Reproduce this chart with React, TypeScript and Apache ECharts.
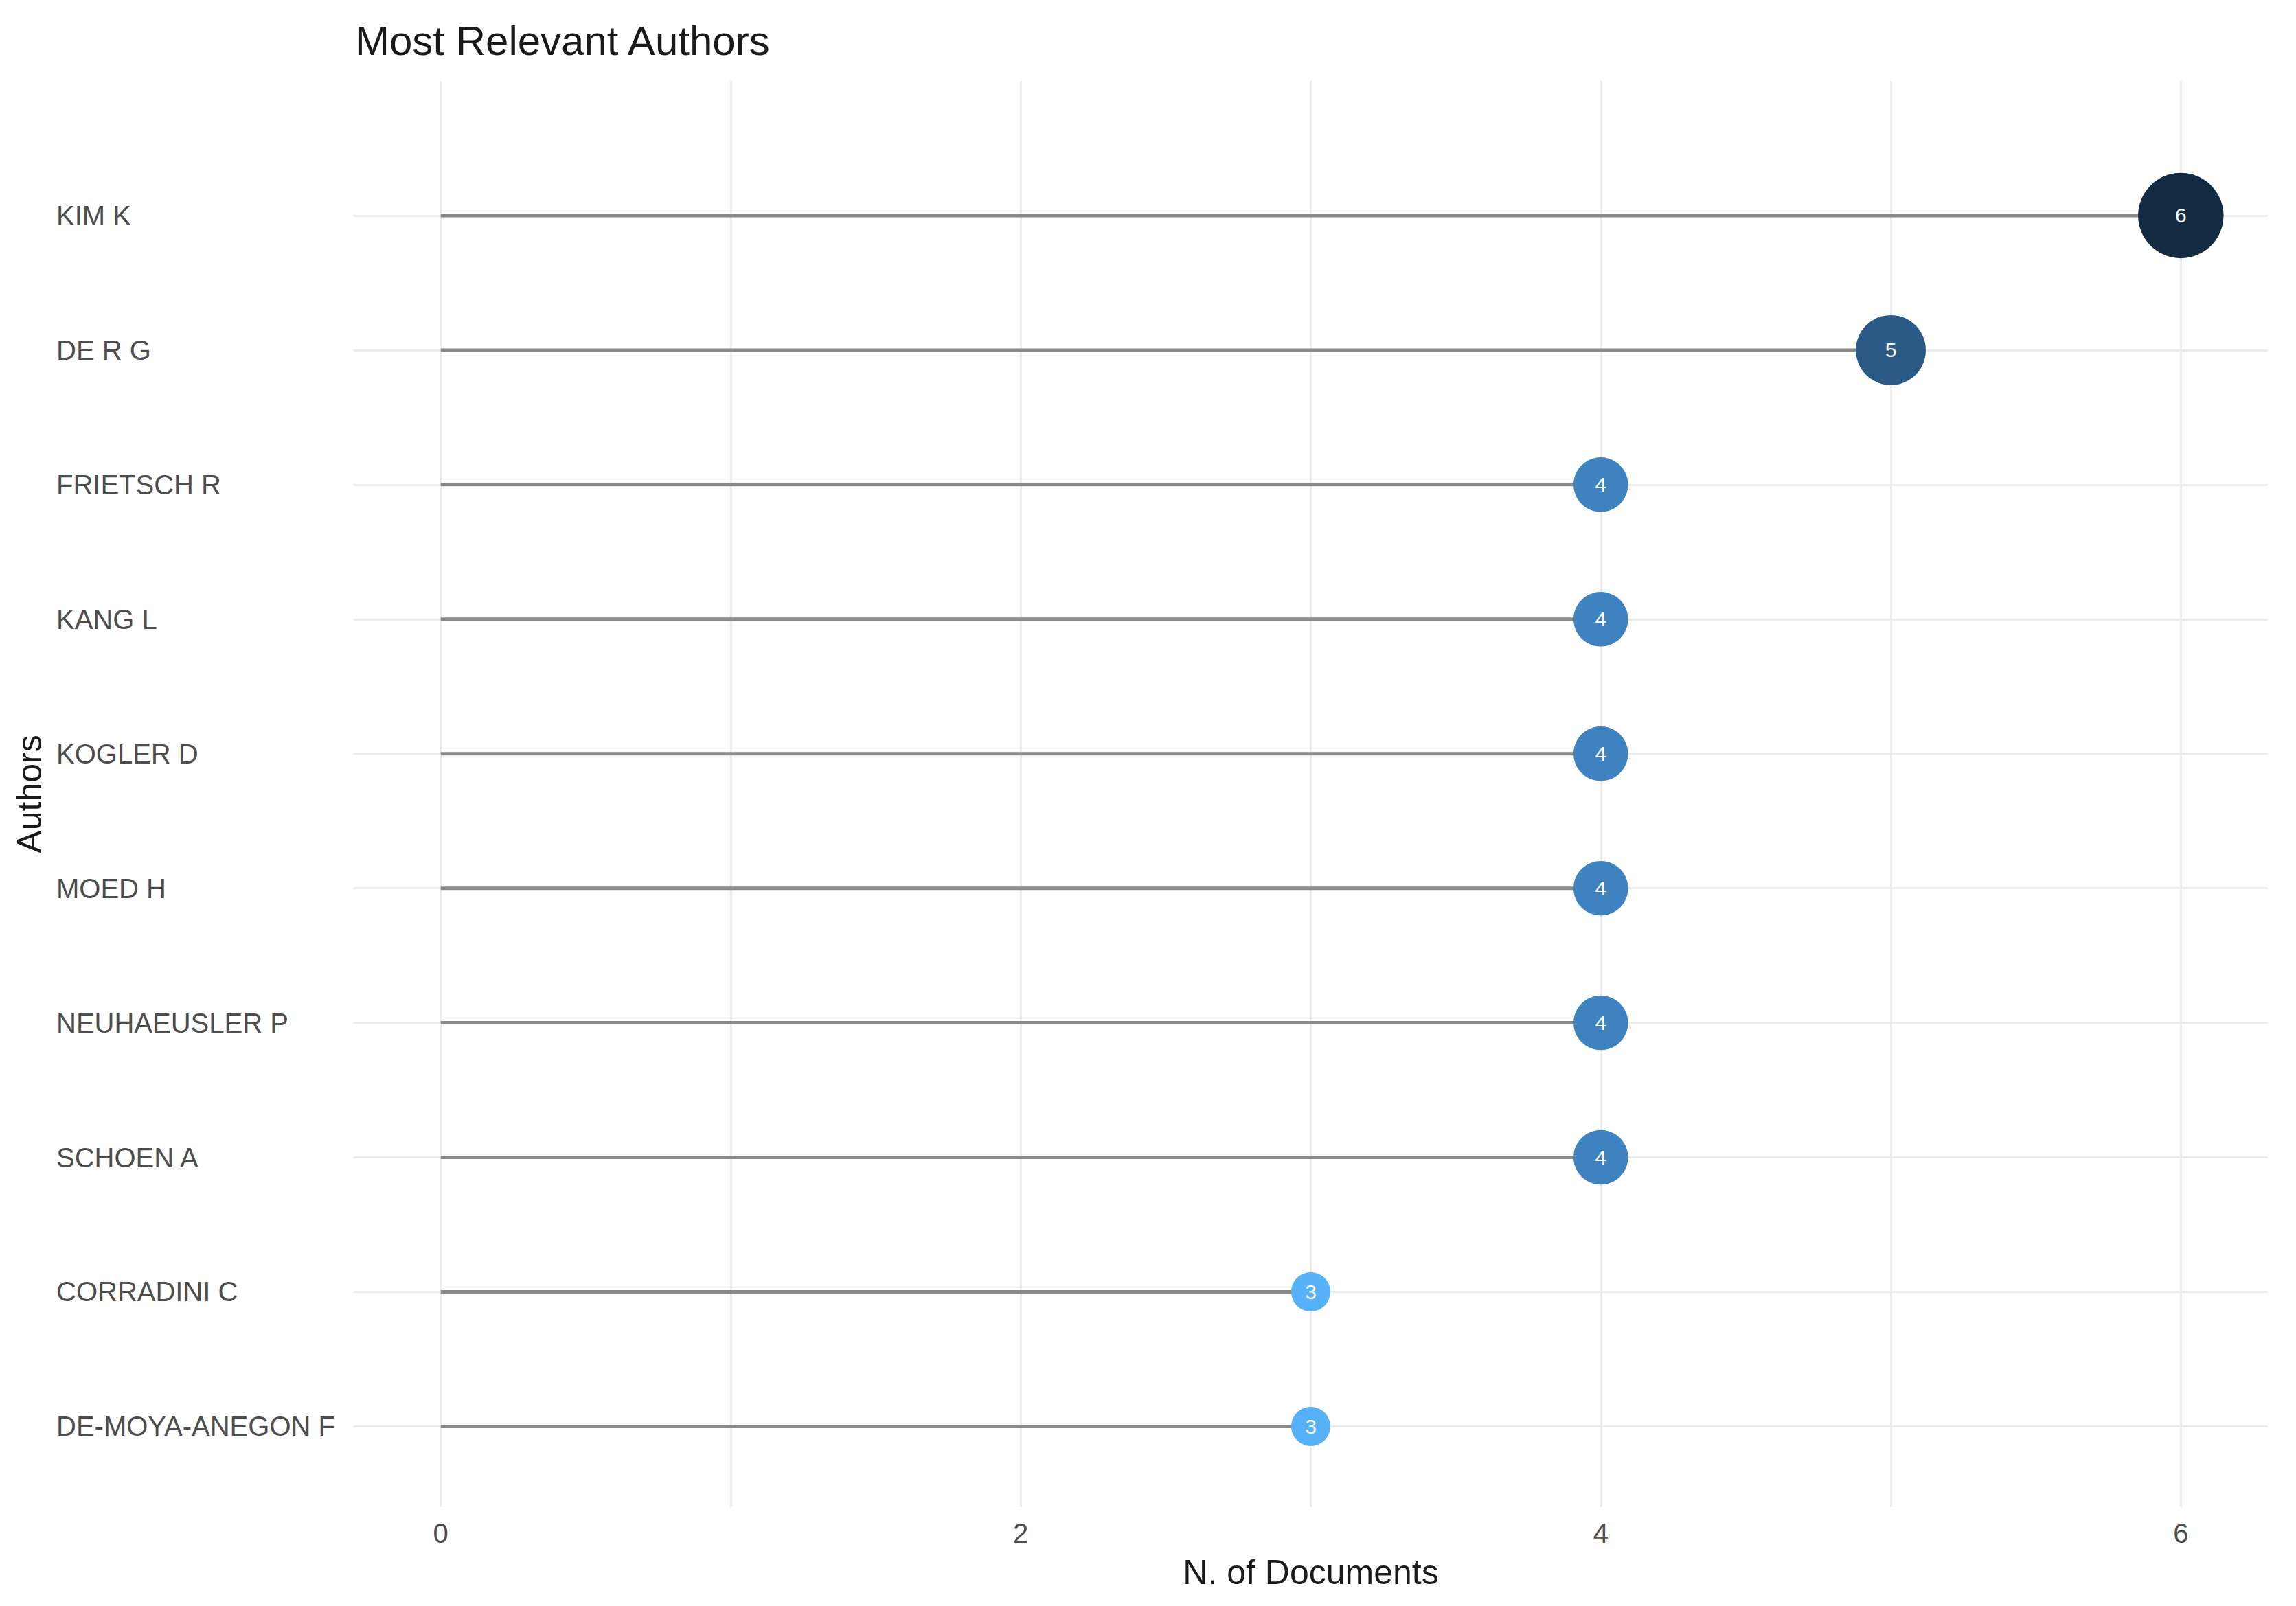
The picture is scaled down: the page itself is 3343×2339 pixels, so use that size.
import React, { useEffect, useRef } from "react";
import * as echarts from "echarts";

const authors = [
  "KIM K",
  "DE R G",
  "FRIETSCH R",
  "KANG L",
  "KOGLER D",
  "MOED H",
  "NEUHAEUSLER P",
  "SCHOEN A",
  "CORRADINI C",
  "DE-MOYA-ANEGON F",
];
const documents = [6, 5, 4, 4, 4, 4, 4, 4, 3, 3];
const xGridValues = [0, 1, 2, 3, 4, 5, 6];
const xTickLabels = [0, 2, 4, 6];
const titleText = "Most Relevant Authors";
const xTitle = "N. of Documents";
const yTitle = "Authors";

const positions = authors.map((_, i) => authors.length - 1 - i);

const colorStops: Record<number, string> = {
  3: "#56B1F7",
  4: "#3E82BF",
  5: "#2A5A85",
  6: "#132B43",
};
const colorFor = (v: number) => colorStops[v] || "#3E82BF";
const sizeFor = (v: number) => 22.5 * v - 10.5;

const FONT = "Liberation Sans, Arial, sans-serif";

export default function App() {
  const ref = useRef<HTMLDivElement>(null);
  useEffect(() => {
    if (!ref.current) return;
    const chart = echarts.init(ref.current, null, { renderer: "svg" });
    chart.setOption({
      animation: false,
      backgroundColor: "#ffffff",
      textStyle: { fontFamily: FONT },
      title: {
        text: titleText,
        left: 512,
        top: 24,
        textStyle: { fontSize: 60, fontWeight: "normal", color: "#1a1a1a", fontFamily: FONT },
      },
      grid: { left: 515, right: 41, top: 118, bottom: 144, containLabel: false },
      xAxis: {
        type: "value",
        min: -0.3,
        max: 6.3,
        axisLine: { show: false },
        axisTick: { show: false, customValues: xGridValues },
        axisLabel: {
          customValues: xTickLabels,
          margin: 18,
          fontSize: 40,
          color: "#4d4d4d",
          fontFamily: FONT,
        },
        splitLine: { show: true, lineStyle: { color: "#ebebeb", width: 3 } },
        name: xTitle,
        nameLocation: "middle",
        nameGap: 70,
        nameTextStyle: { fontSize: 50, color: "#1a1a1a", fontFamily: FONT },
      },
      yAxis: {
        type: "value",
        min: -0.6,
        max: 10,
        axisLine: { show: false },
        axisTick: { show: false, customValues: positions },
        axisLabel: {
          customValues: positions,
          formatter: (v: number) => authors[authors.length - 1 - Math.round(v)],
          align: "left",
          margin: 433,
          fontSize: 40,
          color: "#4d4d4d",
          fontFamily: FONT,
        },
        splitLine: { show: true, lineStyle: { color: "#ebebeb", width: 3 } },
        name: yTitle,
        nameLocation: "middle",
        nameGap: 447,
        nameRotate: 90,
        nameTextStyle: { fontSize: 50, color: "#1a1a1a", fontFamily: FONT },
      },
      series: [
        {
          type: "custom",
          z: 2,
          encode: { x: 0, y: 1 },
          data: documents.map((d, i) => [d, positions[i]]),
          renderItem: (params: any, api: any) => {
            const v = api.value(0);
            const y = api.value(1);
            const p0 = api.coord([0, y]);
            const p1 = api.coord([v, y]);
            return {
              type: "line",
              shape: { x1: p0[0], y1: p0[1], x2: p1[0], y2: p1[1] },
              style: { stroke: "#8a8a8a", lineWidth: 5 },
            };
          },
        },
        {
          type: "scatter",
          z: 3,
          clip: false,
          data: documents.map((d, i) => ({
            value: [d, positions[i]],
            itemStyle: { color: colorFor(d), opacity: 1 },
          })),
          symbolSize: (val: number[]) => sizeFor(val[0]),
          label: {
            show: true,
            position: "inside",
            formatter: (p: any) => String(p.value[0]),
            color: "#ffffff",
            fontSize: 30,
            fontFamily: FONT,
          },
        },
      ],
    });
    return () => chart.dispose();
  }, []);
  return (
    <div
      ref={ref}
      style={{ position: "fixed", left: 0, top: 0, width: 3343, height: 2339 }}
    />
  );
}
